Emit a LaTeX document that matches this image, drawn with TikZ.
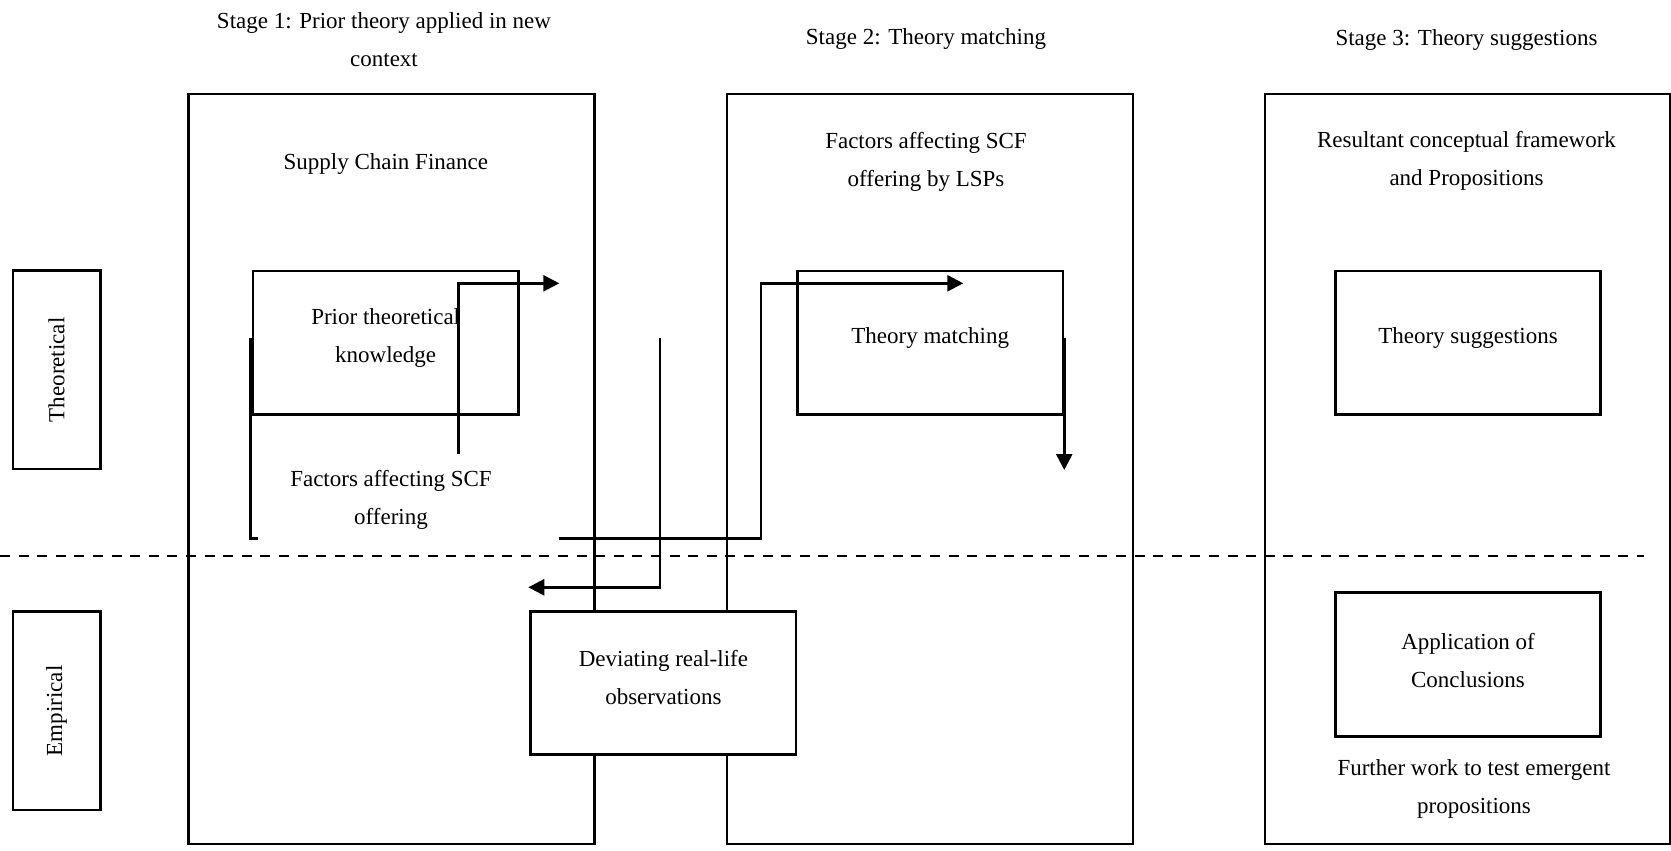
\documentclass[tikz,border=0pt]{standalone}
\usepackage{fontspec}
\setmainfont{Liberation Serif}
\usetikzlibrary{arrows.meta, positioning}

\begin{document}
\begin{tikzpicture}[
  x=0.5pt, y=-0.5pt,
  font=\fontsize{11.5}{19}\selectfont,
  frame/.style={rectangle, draw=black, line width=1.3pt, inner sep=0pt},
  stagebox/.style={frame, minimum width=203pt, minimum height=375pt},
  sidebox/.style={frame, minimum width=43.7pt, minimum height=99.2pt},
  inbox/.style={frame, minimum width=132.75pt, minimum height=71.75pt},
  lbl/.style={align=center, inner sep=0pt},
  link/.style={line width=1.3pt},
  flow/.style={link, -{Triangle[length=8pt, width=8pt]}},
  divider/.style={line width=0.65pt, dash pattern=on 5pt off 4.3pt},
]
\useasboundingbox (0,0) rectangle (1671,851);

% stage columns
\node[stagebox] (stageA) at (391.65,468.9) {};
\node[stagebox] (stageB) at (929.8,468.9) {};
\node[stagebox, minimum width=202.5pt] (stageC) at (1467.5,468.9) {};

\node[lbl] (titleA) at (384,40) {Stage 1: Prior theory applied in new\\context};
\node[lbl] (titleB) at (926,39) {Stage 2: Theory matching};
\node[lbl] (titleC) at (1466.5,40) {Stage 3: Theory suggestions};

\node[lbl] (headA) at (385.8,164) {Supply Chain Finance};
\node[lbl] (headB) at (926,162) {Factors affecting SCF\\offering by LSPs};
\node[lbl] (headC) at (1466.5,161) {Resultant conceptual framework\\and Propositions};

% row labels
\node[sidebox] (theo) at (56.5,369.9) {};
\node[rotate=90] at (theo) {Theoretical};
\node[sidebox] (emp) at (56.5,710.9) {};
\node[rotate=90] at (emp) {Empirical};

% inner boxes
\node[inbox] (prior) at (385.7,342.75) {};
\node[inbox] (match) at (930.2,342.75) {};
\node[inbox] (suggest) at (1468,342.75) {};
\node[inbox] (apply) at (1468,664.5) {};
\node[inbox, fill=white] (deviate) at (663.4,683) {};

\node[lbl, yshift=2.5pt] at (prior) {Prior theoretical\\knowledge};
\node[lbl, yshift=2.5pt] at (match) {Theory matching};
\node[lbl, yshift=2.5pt] at (suggest) {Theory suggestions};
\node[lbl, yshift=2pt] at (apply) {Application of\\Conclusions};
\node[lbl, yshift=2.5pt] at (deviate) {Deviating real-life\\observations};

\node[lbl] (factors) at (391,499.5) {Factors affecting SCF\\offering};
\node[lbl] (further) at (1474,788.5) {Further work to test emergent\\propositions};

% connectors
\coordinate (a1s) at (458.7,454);
\coordinate (a1e) at (559.3,283.3);
\coordinate (b1s) at (250.7,338.3);
\coordinate (b1e) at (258.3,538.7);
\coordinate (c1s) at (559.3,538.7);
\coordinate (c1m) at (761,283.3);
\coordinate (c1e) at (963.3,283.3);
\coordinate (d1s) at (660,338.3);
\coordinate (d1e) at (528.3,587.3);
\coordinate (e1s) at (match.east |- d1s);
\coordinate (e1e) at (match.east |- 0,470);

\draw[flow] (a1s) |- (a1e);
\draw[link] (b1s) |- (b1e);
\draw[flow] (c1s) -| (c1m) -- (c1e);
\draw[flow] (d1s) |- (d1e);
\draw[flow] (e1s) -- (e1e);

\coordinate (dl) at (0,556);
\coordinate (dr) at (1644,556);
\draw[divider] (dl) -- (dr);
\end{tikzpicture}
\end{document}
